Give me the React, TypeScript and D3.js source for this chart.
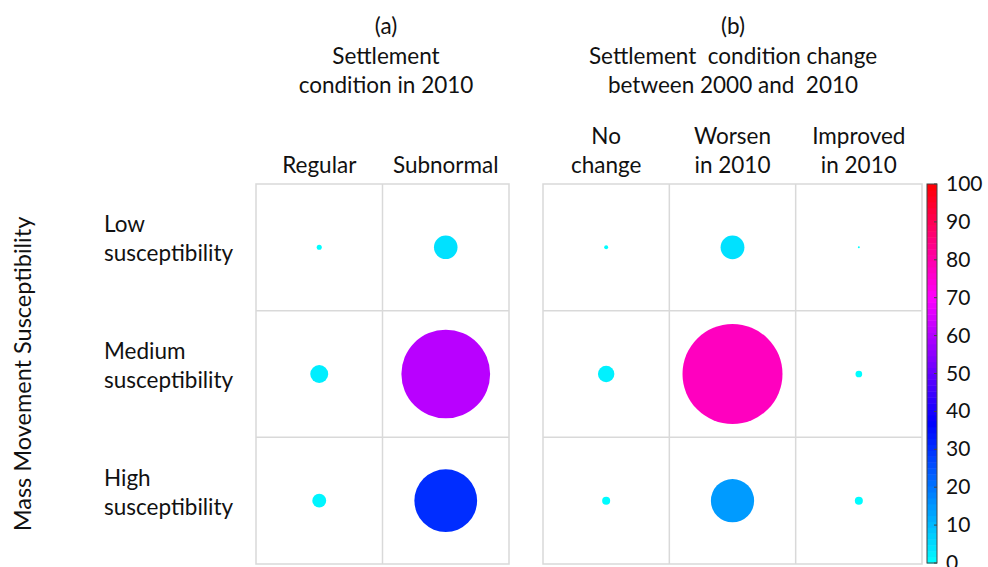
import React from "react";
import * as d3 from "d3";

const rows = ["Low", "Medium", "High"];
const rowLabels = [["Low", "susceptibility"], ["Medium", "susceptibility"], ["High", "susceptibility"]];
const colsA = ["Regular", "Subnormal"];
const colsALabels = [["Regular"], ["Subnormal"]];
const colsB = ["No change", "Worsen", "Improved"];
const colsBLabels = [["No", "change"], ["Worsen", "in 2010"], ["Improved", "in 2010"]];
// percentages, rows: Low, Medium, High
const valuesA = [
  [0.2, 4.3],
  [2.5, 61],
  [1.5, 30.5],
];
const valuesB = [
  [0.12, 4.4, 0.03],
  [2.1, 77.5, 0.35],
  [0.5, 14.5, 0.5],
];
const colorTicks = [0, 10, 20, 30, 40, 50, 60, 70, 80, 90, 100];
const titleA = ["(a)", "Settlement", "condition in 2010"];
const titleB = ["(b)", "Settlement  condition change", "between 2000 and  2010"];
const yTitle = "Mass Movement Susceptibility";

const FONT = "Lato, 'Open Sans', sans-serif";

export default function App() {
  const W = 988, H = 567;
  const y = d3.scaleBand<string>().domain(rows).range([184, 564]);
  const xA = d3.scaleBand<string>().domain(colsA).range([256, 509]);
  const xB = d3.scaleBand<string>().domain(colsB).range([543, 922]);
  const r = d3.scaleSqrt().domain([0, 100]).range([0, 56.8]);
  const color = d3.scaleLinear<string>()
    .domain([0, 37, 70, 100])
    .range(["#00ffff", "#0000ff", "#ff00ff", "#ff0000"]);
  const cb = d3.scaleLinear().domain([0, 100]).range([563, 184]);
  const nBands = 64;
  const bands = d3.range(nBands);
  const gridColor = "#d9d9d9";
  const fs = 22.5;

  const panel = (x: d3.ScaleBand<string>, cols: string[], vals: number[][], key: string) => {
    const x0 = x.range()[0], x1 = x.range()[1];
    const y0 = y.range()[0], y1 = y.range()[1];
    return (
      <g key={key}>
        <rect x={x0} y={y0} width={x1 - x0} height={y1 - y0} fill="white" stroke={gridColor} strokeWidth={1.5} />
        {cols.slice(1).map((c) => (
          <line key={c} x1={x(c)} x2={x(c)} y1={y0} y2={y1} stroke={gridColor} strokeWidth={1.5} />
        ))}
        {rows.slice(1).map((rw) => (
          <line key={rw} x1={x0} x2={x1} y1={y(rw)} y2={y(rw)} stroke={gridColor} strokeWidth={1.5} />
        ))}
        {rows.map((rw, i) =>
          cols.map((c, j) => (
            <circle
              key={rw + c}
              cx={(x(c) as number) + x.bandwidth() / 2}
              cy={(y(rw) as number) + y.bandwidth() / 2}
              r={r(vals[i][j])}
              fill={color(vals[i][j])}
            />
          ))
        )}
      </g>
    );
  };

  return (
    <svg width={W} height={H} style={{ position: "absolute", left: 0, top: 0, background: "white" }} fontFamily={FONT}>
      <rect x={0} y={0} width={W} height={H} fill="white" />
      {/* titles */}
      {titleA.map((t, i) => (
        <text key={"ta" + i} x={386} y={34 + i * 29.5} textAnchor="middle" fontSize={fs} fill="#111">{t}</text>
      ))}
      {titleB.map((t, i) => (
        <text key={"tb" + i} x={733} y={34 + i * 29.5} textAnchor="middle" fontSize={fs} fill="#111" style={{ whiteSpace: "pre" }}>{t}</text>
      ))}
      {/* column labels */}
      {colsA.map((c, j) =>
        colsALabels[j].map((t, k, arr) => (
          <text key={c + k} x={(xA(c) as number) + xA.bandwidth() / 2} y={173 - (arr.length - 1 - k) * 29} textAnchor="middle" fontSize={fs} fill="#111">{t}</text>
        ))
      )}
      {colsB.map((c, j) =>
        colsBLabels[j].map((t, k, arr) => (
          <text key={c + k} x={(xB(c) as number) + xB.bandwidth() / 2} y={173 - (arr.length - 1 - k) * 29} textAnchor="middle" fontSize={fs} fill="#111">{t}</text>
        ))
      )}
      {/* row labels */}
      {rows.map((rw, i) =>
        rowLabels[i].map((t, k) => (
          <text key={rw + k} x={104} y={(y(rw) as number) + y.bandwidth() / 2 - 15 + k * 29} fontSize={fs} fill="#111">{t}</text>
        ))
      )}
      {/* y title */}
      <text transform={`translate(31,${(184 + 564) / 2}) rotate(-90)`} textAnchor="middle" fontSize={23.5} fill="#111">{yTitle}</text>
      {panel(xA, colsA, valuesA, "a")}
      {panel(xB, colsB, valuesB, "b")}
      {/* colorbar */}
      <g>
        {bands.map((b) => {
          const v0 = (b / nBands) * 100, v1 = ((b + 1) / nBands) * 100;
          return (
            <rect key={b} x={927} width={10} y={cb(v1)} height={cb(v0) - cb(v1) + 0.5} fill={color((v0 + v1) / 2)} />
          );
        })}
        <rect x={927} y={184} width={10} height={379} fill="none" stroke="#444" strokeWidth={1} />
        {colorTicks.map((t) => (
          <g key={t}>
            <line x1={934} x2={937} y1={cb(t)} y2={cb(t)} stroke="#444" strokeWidth={1} />
            <text x={946} y={cb(t) + 7} fontSize={21} fill="#111">{t}</text>
          </g>
        ))}
      </g>
    </svg>
  );
}
